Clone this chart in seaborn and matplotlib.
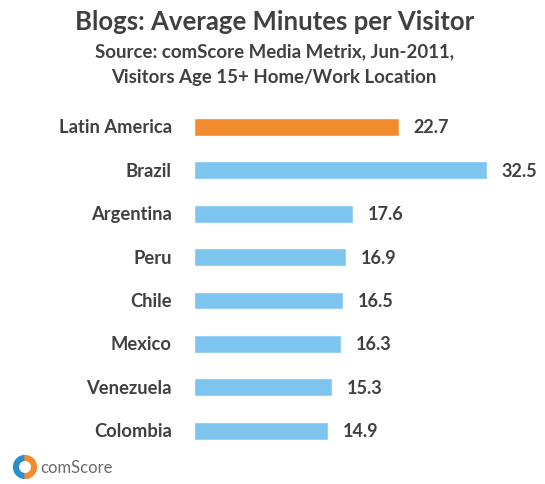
import matplotlib
matplotlib.use("Agg")
import matplotlib.pyplot as plt
from matplotlib.patches import Wedge
import seaborn as sns
import pandas as pd

regions = ["Latin America", "Brazil", "Argentina", "Peru", "Chile",
           "Mexico", "Venezuela", "Colombia"]
minutes = [22.7, 32.5, 17.6, 16.9, 16.5, 16.3, 15.3, 14.9]
highlight = ["Latin America"]

ORANGE = "#F28C2E"
BLUE = "#7DC5EF"
TEXT = "#404040"

sns.set_theme(style="white")
plt.rcParams["font.family"] = ["Lato", "DejaVu Sans"]

df = pd.DataFrame({"region": regions, "minutes": minutes})
palette = {r: (ORANGE if r in highlight else BLUE) for r in regions}

fig = plt.figure(figsize=(5.45, 4.85), dpi=100)
ax = fig.add_axes([0.356, 0.065, 0.629, 0.716])

sns.barplot(data=df, x="minutes", y="region", hue="region", palette=palette,
            order=regions, hue_order=regions, legend=False, width=0.41,
            saturation=1, ax=ax)

ax.set_xlim(0, 38)
ax.set_ylim(7.5, -0.5)
ax.set_xticks([])
ax.set_yticks([])
ax.set_xlabel("")
ax.set_ylabel("")
for s in ax.spines.values():
    s.set_visible(False)

for i, (r, v) in enumerate(zip(regions, minutes)):
    ax.annotate(r, xy=(0, i), xytext=(-16, 0), textcoords="offset points",
                ha="right", va="center", fontsize=13.2, fontweight="bold",
                color=TEXT)
    ax.annotate(f"{v:.1f}", xy=(v, i), xytext=(10.5, 0),
                textcoords="offset points", ha="left", va="center",
                fontsize=13, fontweight="bold", color=TEXT)

fig.text(0.503, 0.955, "Blogs: Average Minutes per Visitor", ha="center",
         va="center", fontsize=18.5, fontweight="bold", color=TEXT)
fig.text(0.503, 0.893, "Source: comScore Media Metrix, Jun-2011,", ha="center",
         va="center", fontsize=13.4, fontweight="bold", color=TEXT)
fig.text(0.503, 0.841, "Visitors Age 15+ Home/Work Location", ha="center",
         va="center", fontsize=13.4, fontweight="bold", color=TEXT)

# comScore logo mark
cx, cy = 25 / 545, 1 - 468 / 485
logo_ax = fig.add_axes([cx - 0.035, cy - 0.04, 0.07, 0.08])
logo_ax.set_xlim(-1, 1)
logo_ax.set_ylim(-1, 1)
logo_ax.set_aspect("equal")
logo_ax.axis("off")
logo_ax.add_patch(Wedge((0, 0), 0.6, 90, 270, width=0.25, color="#2A8FCB"))
logo_ax.add_patch(Wedge((0, 0), 0.6, -90, 90, width=0.25, color=ORANGE))
fig.text(40 / 545, cy, "comScore", ha="left", va="center", fontsize=12,
         color="#6B6B6B")

fig.savefig("out.png", dpi=100)
